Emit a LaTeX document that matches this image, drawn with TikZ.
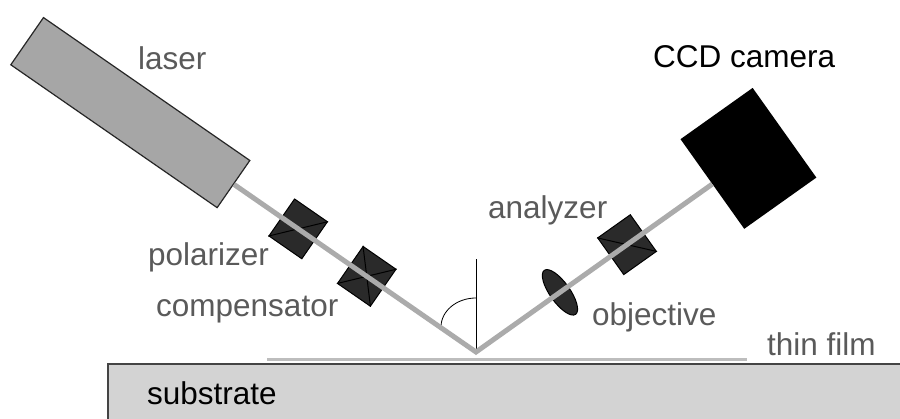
\documentclass[tikz,border=0pt]{standalone}
\usepackage{fontspec}
\setmainfont{Liberation Sans}
\usetikzlibrary{shapes.geometric}
\definecolor{labelgray}{HTML}{5A5A5A}
\definecolor{beamgray}{HTML}{ABABAB}
\definecolor{lasergray}{HTML}{A6A6A6}
\definecolor{cubefill}{HTML}{2A2A2A}
\definecolor{substratefill}{HTML}{D3D3D3}
\definecolor{substrateedge}{HTML}{444444}
\definecolor{filmgray}{HTML}{BDBDBD}
\begin{document}
\begin{tikzpicture}[x=1pt,y=1pt,
  lbl/.style={anchor=base west, inner sep=0pt, font=\fontsize{31.5}{36}\selectfont, text=labelgray},
  lblblack/.style={lbl, text=black},
  beam/.style={draw=beamgray, line width=5pt},
  cube/.style={rectangle, draw=black, fill=cubefill, line width=1pt, inner sep=0pt,
               minimum width=40pt, minimum height=45pt},
  cubeline/.style={draw=black, line width=1pt},
  lens/.style={ellipse, draw=black, fill=cubefill, line width=1pt, inner sep=0pt,
               minimum width=20pt, minimum height=54pt},
  laserbox/.style={rectangle, draw=black!85, fill=lasergray, line width=1.2pt, inner sep=0pt,
               minimum width=251pt, minimum height=57.4pt},
  camerabox/.style={rectangle, fill=black, inner sep=0pt,
               minimum width=88.5pt, minimum height=110pt},
  thinline/.style={draw=black, line width=0.8pt}]
\useasboundingbox (0,0) rectangle (900,419);
\clip (0,0) rectangle (900,419);
\fill[white] (0,0) rectangle (900,419);

% substrate block and the film on top of it
\draw[fill=substratefill, draw=substrateedge, line width=1.8pt] (108,55) rectangle (930,-30);
\node[lblblack] (substrate) at (147,14) {substrate};
\draw[filmgray, line width=3pt] (267,59) -- (747,59);
\node[lbl] (film) at (767,63) {thin film};

% point of reflection, surface normal and angle of incidence
\coordinate (R) at (476,67);
\coordinate (N) at (476,160);
\draw[thinline] (R) -- (N);
\coordinate (arcstart) at (441,92);
\draw[thinline] (arcstart) arc[start angle=180, end angle=90, x radius=35, y radius=29];

% incident arm: laser, polarizer, compensator
\begin{scope}[shift={(R)}, rotate=145.3, transform shape]
  \node[laserbox] (laser) at (420.5,0) {};
  \node[cube] (pol) at (216.3,0) {};
  \draw[cubeline] (pol.south west) -- (pol.north east);
  \node[cube] (comp) at (132.9,0) {};
  \draw[cubeline] (comp.south west) -- (comp.north east);
  \draw[cubeline] (comp.north west) -- (comp.south east);
\end{scope}

% reflected arm: objective, analyzer, camera
\begin{scope}[shift={(R)}, rotate=35.4, transform shape]
  \node[lens] (obj) at (103,0) {};
  \node[cube] (ana) at (185.3,0) {};
  \draw[cubeline] (ana.north west) -- (ana.south east);
  \node[camerabox] (cam) at (334.25,0) {};
\end{scope}

% light path
\draw[beam] (laser.west) -- (R) -- (cam.west);

% labels
\node[lbl] (laserlbl) at (138,349) {laser};
\node[lbl] (pollbl) at (148,153) {polarizer};
\node[lbl] (complbl) at (156,102) {compensator};
\node[lbl] (analbl) at (488,200) {analyzer};
\node[lbl] (objlbl) at (592,93) {objective};
\node[lblblack] (camlbl) at (653,351) {CCD camera};
\end{tikzpicture}
\end{document}
